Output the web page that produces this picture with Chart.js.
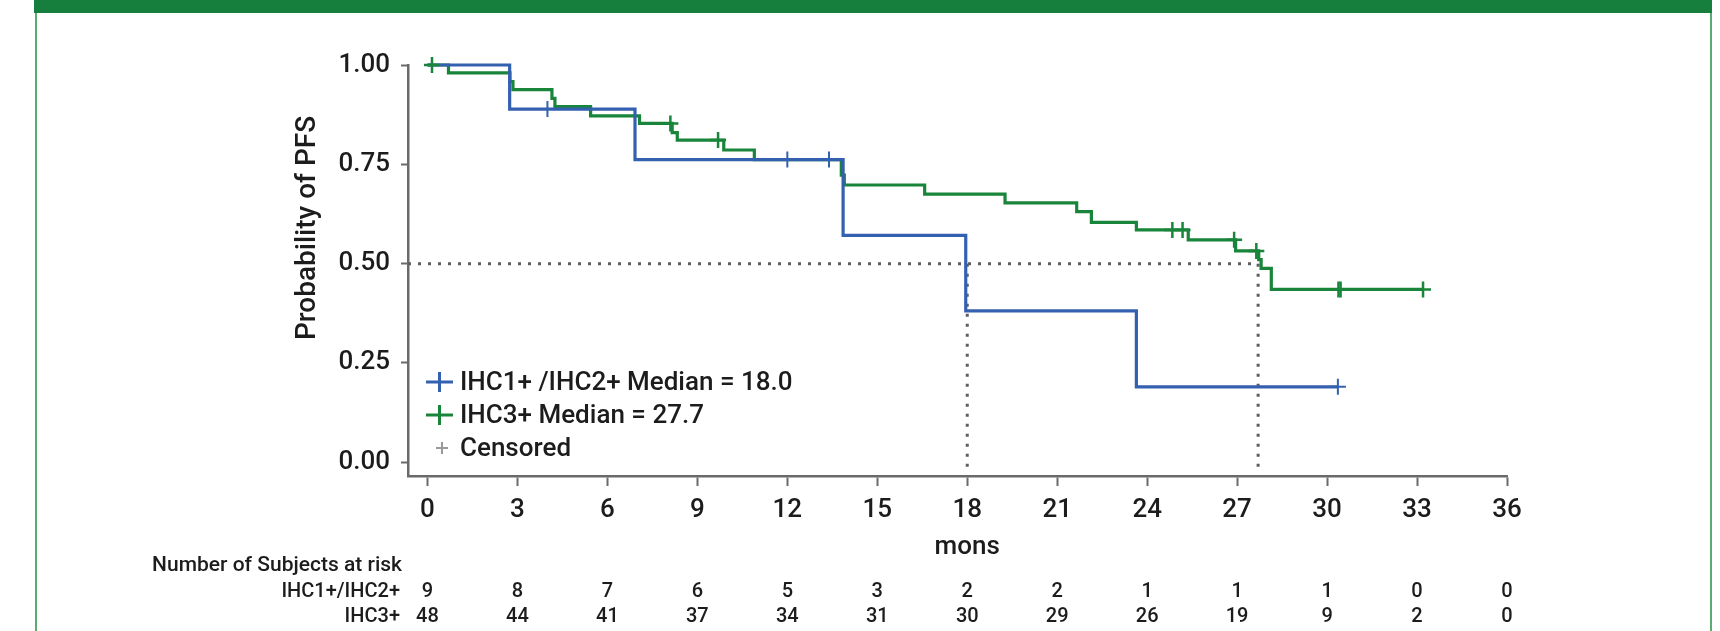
<!DOCTYPE html>
<html>
<head>
<meta charset="utf-8">
<script src="https://cdn.jsdelivr.net/npm/chart.js@4.4.1/dist/chart.umd.min.js"></script>
<style>
  html, body { margin: 0; padding: 0; background: #fff; }
  #wrap { position: relative; width: 1720px; height: 631px; overflow: hidden; }
  #banner { position: absolute; left: 34px; top: 0; width: 1678px; height: 13px; background: #167f3e; }
  #frame { position: absolute; left: 35px; top: 13px; width: 1673px; height: 640px;
           border-left: 2px solid #5bab70; border-right: 2px solid #5bab70; }
  canvas { position: absolute; left: 0; top: 0; }
</style>
</head>
<body>
<div id="wrap">
  <canvas id="km" width="1720" height="631"></canvas>
  <div id="banner"></div>
  <div id="frame"></div>
</div>
<script>
// survival curves (time in months, probability after each step)
const blueTimes = [0, 2.74, 6.92, 13.86, 17.95, 23.64, 30.36];
const blueSurv  = [1, 0.889, 0.762, 0.571, 0.381, 0.19, 0.19];
const blueCensored = [4.0, 12.0, 13.39, 30.36];

const greenTimes = [0, 0.7, 2.75, 2.85, 4.15, 4.25, 5.44, 7.07, 8.16, 8.33, 9.88, 10.9,
  13.8, 13.9, 16.58, 19.26, 21.65, 22.14, 23.64, 25.37, 26.95, 27.72, 27.8, 28.14, 33.2];
const greenSurv  = [1, 0.98, 0.958, 0.938, 0.916, 0.895, 0.872, 0.853, 0.83, 0.811, 0.786, 0.762,
  0.723, 0.698, 0.675, 0.653, 0.631, 0.604, 0.585, 0.56, 0.532, 0.51, 0.488, 0.435, 0.435];
const greenCensored = [0.15, 8.1, 9.69, 24.84, 25.18, 26.9, 27.64, 30.38, 30.45, 33.2];

const medians = [18.0, 27.7];
const legendLabels = ["IHC1+ /IHC2+ Median = 18.0", "IHC3+ Median = 27.7", "Censored"];

const xTicks = [0, 3, 6, 9, 12, 15, 18, 21, 24, 27, 30, 33, 36];
const yTicks = [0, 0.25, 0.5, 0.75, 1];

// number at risk table
const riskLabels = ["IHC1+/IHC2+", "IHC3+"];
const riskBlue  = [9, 8, 7, 6, 5, 3, 2, 2, 1, 1, 1, 0, 0];
const riskGreen = [48, 44, 41, 37, 34, 31, 30, 29, 26, 19, 9, 2, 0];

const BLUE = "#3460b0";
const GREEN = "#18853a";
const GREY = "#5e5e5e";
const TEXT = "#1c1c1c";
const FONT = "Roboto, 'Noto Sans', sans-serif";
const X_MIN = -0.65;
const Y_MIN = -0.0345;

function survAt(times, surv, t) {
  let s = surv[0];
  for (let i = 0; i < times.length; i++) {
    if (times[i] <= t) s = surv[i];
  }
  return s;
}

function curve(times, surv) {
  return times.map((t, i) => ({ x: t, y: surv[i] }));
}

function censorPts(list, times, surv) {
  return list.map(t => ({ x: t, y: survAt(times, surv, t) }));
}

const dotted = {
  borderColor: GREY,
  borderWidth: 3,
  borderDash: [3, 7],
  pointRadius: 0,
  clip: false
};

const decor = {
  id: "decor",
  afterDraw(chart) {
    const ctx = chart.ctx;
    const xs = chart.scales.x;
    const area = chart.chartArea;
    ctx.save();
    ctx.fillStyle = TEXT;

    // y axis title
    ctx.save();
    ctx.translate(308, 228);
    ctx.rotate(-Math.PI / 2);
    ctx.font = "500 28px " + FONT;
    ctx.textAlign = "center";
    ctx.textBaseline = "middle";
    ctx.fillText("Probability of PFS", 0, 0);
    ctx.restore();

    // x axis title
    ctx.font = "500 26px " + FONT;
    ctx.textAlign = "center";
    ctx.textBaseline = "middle";
    ctx.fillText("mons", xs.getPixelForValue(18), 547);

    // legend inside plot
    const lx = area.left + 18;
    const rows = [382, 415, 448];
    [BLUE, GREEN].forEach((c, i) => {
      ctx.strokeStyle = c;
      ctx.lineWidth = 3;
      ctx.beginPath();
      ctx.moveTo(lx, rows[i]);
      ctx.lineTo(lx + 27, rows[i]);
      ctx.moveTo(lx + 13.5, rows[i] - 10);
      ctx.lineTo(lx + 13.5, rows[i] + 10);
      ctx.stroke();
    });
    ctx.strokeStyle = "#9a9a9a";
    ctx.lineWidth = 2;
    ctx.beginPath();
    ctx.moveTo(lx + 10, rows[2]);
    ctx.lineTo(lx + 22, rows[2]);
    ctx.moveTo(lx + 16, rows[2] - 6);
    ctx.lineTo(lx + 16, rows[2] + 6);
    ctx.stroke();
    ctx.font = "500 26px " + FONT;
    ctx.textAlign = "left";
    ctx.textBaseline = "middle";
    legendLabels.forEach((t, i) => ctx.fillText(t, lx + 34, rows[i] + 1));

    // risk table
    ctx.font = "500 21px " + FONT;
    ctx.textAlign = "right";
    ctx.fillText("Number of Subjects at risk", 402, 566);
    ctx.font = "500 20px " + FONT;
    ctx.fillText(riskLabels[0], 400, 592);
    ctx.fillText(riskLabels[1], 400, 617);
    ctx.textAlign = "center";
    xTicks.forEach((t, i) => {
      const px = xs.getPixelForValue(t);
      ctx.fillText(String(riskBlue[i]), px, 592);
      ctx.fillText(String(riskGreen[i]), px, 617);
    });
    ctx.restore();
  }
};

const ctx = document.getElementById("km").getContext("2d");
new Chart(ctx, {
  type: "line",
  data: {
    datasets: [
      {
        data: censorPts(blueCensored, blueTimes, blueSurv),
        showLine: false,
        pointStyle: "cross",
        pointRadius: 8,
        pointBorderWidth: 2,
        borderColor: BLUE,
        clip: false
      },
      {
        data: censorPts(greenCensored, greenTimes, greenSurv),
        showLine: false,
        pointStyle: "cross",
        pointRadius: 8,
        pointBorderWidth: 2.5,
        borderColor: GREEN,
        clip: false
      },
      {
        data: curve(blueTimes, blueSurv),
        stepped: true,
        borderColor: BLUE,
        borderWidth: 3.2,
        pointRadius: 0,
        clip: false
      },
      {
        data: curve(greenTimes, greenSurv),
        stepped: true,
        borderColor: GREEN,
        borderWidth: 3.2,
        pointRadius: 0,
        clip: false
      },
      Object.assign({ data: [{ x: X_MIN, y: 0.5 }, { x: medians[1], y: 0.5 }] }, dotted),
      Object.assign({ data: [{ x: medians[0], y: 0.5 }, { x: medians[0], y: -0.025 }] }, dotted),
      Object.assign({ data: [{ x: medians[1], y: 0.5 }, { x: medians[1], y: -0.025 }] }, dotted)
    ]
  },
  options: {
    responsive: false,
    animation: false,
    layout: { padding: { left: 0, top: 65, right: 213, bottom: 0 } },
    plugins: {
      legend: { display: false },
      tooltip: { enabled: false }
    },
    scales: {
      x: {
        type: "linear",
        min: X_MIN,
        max: 36,
        afterBuildTicks: function (scale) {
          scale.ticks = xTicks.map(v => ({ value: v }));
        },
        afterFit: function (scale) {
          scale.height = 155;
        },
        grid: {
          drawOnChartArea: false,
          drawTicks: true,
          tickLength: 10,
          tickColor: "#6a6a6a",
          tickWidth: 2
        },
        border: { display: true, color: "#6a6a6a", width: 2.5 },
        ticks: {
          color: TEXT,
          font: { family: FONT, size: 26, weight: "500" },
          padding: 9,
          maxRotation: 0,
          autoSkip: false,
          callback: function (v) {
            return String(v);
          }
        }
      },
      y: {
        type: "linear",
        min: Y_MIN,
        max: 1,
        afterBuildTicks: function (scale) {
          scale.ticks = yTicks.map(v => ({ value: v }));
        },
        afterFit: function (scale) {
          scale.width = 408;
        },
        grid: {
          drawOnChartArea: false,
          drawTicks: true,
          tickLength: 7,
          tickColor: "#6a6a6a",
          tickWidth: 2
        },
        border: { display: true, color: "#6a6a6a", width: 2.5 },
        ticks: {
          color: TEXT,
          font: { family: FONT, size: 26, weight: "500" },
          padding: 11,
          callback: function (v) {
            return Number(v).toFixed(2);
          }
        }
      }
    }
  },
  plugins: [decor]
});
</script>
</body>
</html>
